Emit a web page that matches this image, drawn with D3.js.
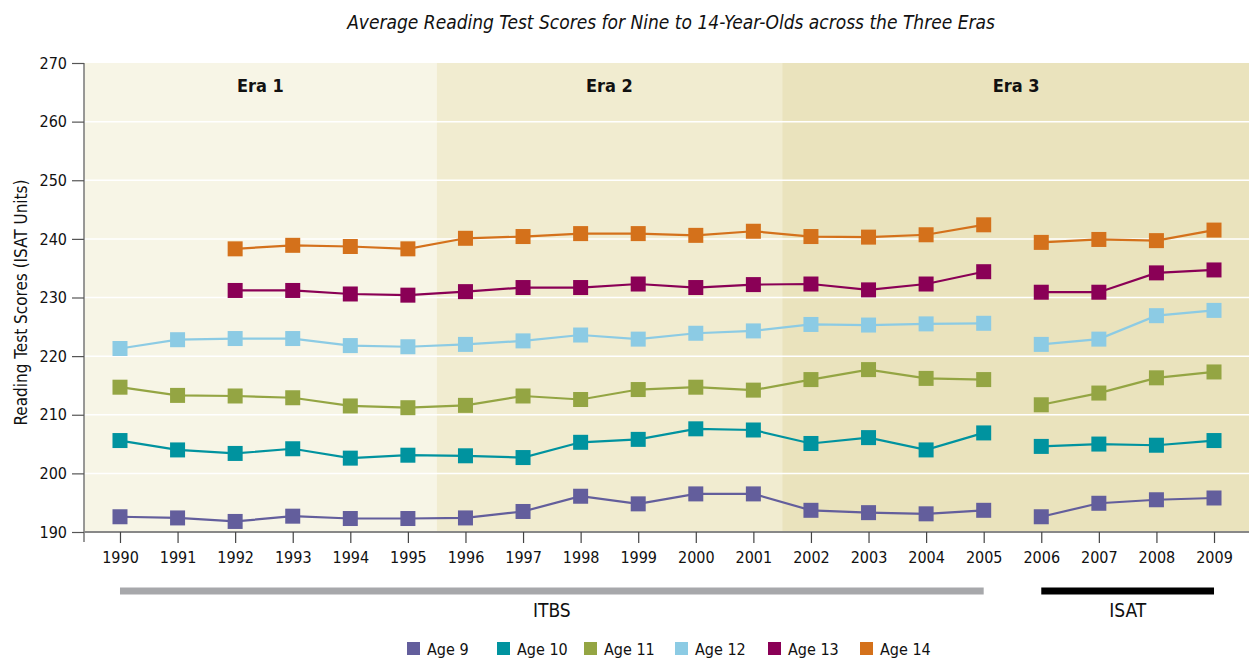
<!DOCTYPE html>
<html>
<head>
<meta charset="utf-8">
<script src="https://cdn.jsdelivr.net/npm/d3@7"></script>
<style>
  body { margin: 0; background: #fff; }
  text { font-family: "Liberation Sans Narrow", "DejaVu Sans Condensed", "Roboto Condensed", sans-serif; fill: #111; }
</style>
</head>
<body>
<svg width="1249" height="661"></svg>
<script>
var svg = d3.select("svg");

// data
const years = [1990, 1991, 1992, 1993, 1994, 1995, 1996, 1997, 1998, 1999,
	2000, 2001, 2002, 2003, 2004, 2005, 2006, 2007, 2008, 2009];
const age9 = [192.6, 192.4, 191.8, 192.7, 192.3, 192.3, 192.4, 193.5, 196.1, 194.8,
	196.5, 196.5, 193.7, 193.3, 193.1, 193.7, 192.6, 194.9, 195.5, 195.8];
const age10 = [205.6, 204.0, 203.4, 204.2, 202.6, 203.1, 203.0, 202.7, 205.3, 205.8,
	207.6, 207.4, 205.1, 206.1, 204.0, 206.9, 204.6, 205.0, 204.8, 205.6];
const age11 = [214.7, 213.3, 213.2, 212.9, 211.5, 211.2, 211.6, 213.2, 212.6, 214.3,
	214.7, 214.2, 216.0, 217.7, 216.2, 216.0, 211.7, 213.7, 216.3, 217.3];
const age12 = [221.3, 222.8, 223.0, 223.0, 221.8, 221.6, 222.0, 222.6, 223.6, 222.9,
	223.9, 224.3, 225.4, 225.3, 225.5, 225.6, 222.0, 222.9, 226.9, 227.8];
const age13 = [null, null, 231.2, 231.2, 230.6, 230.4, 231.0, 231.7, 231.7, 232.3,
	231.7, 232.2, 232.3, 231.3, 232.3, 234.4, 230.9, 230.9, 234.2, 234.7];
const age14 = [null, null, 238.3, 238.9, 238.7, 238.3, 240.1, 240.4, 240.9, 240.9,
	240.6, 241.3, 240.4, 240.3, 240.7, 242.4, 239.4, 239.9, 239.7, 241.5];

const seriesNames = ["Age 9", "Age 10", "Age 11", "Age 12", "Age 13", "Age 14"];
const seriesValues = [age9, age10, age11, age12, age13, age14];
const colors = ["#635e9c", "#00939f", "#94a543", "#8ccbe4", "#8a0056", "#d4711b"];

const eraNames = ["Era 1", "Era 2", "Era 3"];
const eraStart = [1989.375, 1995.5, 2001.5];
const eraEnd = [1995.5, 2001.5, 2009.625];
const eraFill = ["#f7f5e6", "#f1ecd0", "#eae3bd"];

// test programmes and the years they cover
const testNames = ["ITBS", "ISAT"];
const testStart = [1990, 2006];
const testEnd = [2005, 2009];
const testColor = ["#a7a8ab", "#000"];

const yTicks = [190, 200, 210, 220, 230, 240, 250, 260, 270];

const plotLeft = 84, plotTop = 63, plotBottom = 532;

const x = d3.scaleLinear().domain([1989.375, 2009.625]).range([plotLeft, 1250]);
const y = d3.scaleLinear().domain([190, 270]).range([plotBottom, plotTop]);

// title
svg.append("text")
	.attr("x", 671)
	.attr("y", 29)
	.attr("text-anchor", "middle")
	.attr("font-style", "italic")
	.attr("font-size", 19)
	.text("Average Reading Test Scores for Nine to 14-Year-Olds across the Three Eras");

// era bands
svg.append("g")
	.selectAll("rect")
	.data(eraNames)
	.join("rect")
	.attr("x", (d, i) => x(eraStart[i]))
	.attr("width", (d, i) => x(eraEnd[i]) - x(eraStart[i]))
	.attr("y", plotTop)
	.attr("height", plotBottom - plotTop)
	.attr("fill", (d, i) => eraFill[i]);

svg.append("g")
	.selectAll("text")
	.data(eraNames)
	.join("text")
	.attr("x", (d, i) => (x(eraStart[i]) + x(eraEnd[i])) / 2)
	.attr("y", 92)
	.attr("text-anchor", "middle")
	.attr("font-weight", "bold")
	.attr("font-size", 18)
	.text(d => d);

// grid
svg.append("g")
	.selectAll("line")
	.data(yTicks.slice(1, -1))
	.join("line")
	.attr("x1", plotLeft)
	.attr("x2", 1249)
	.attr("y1", d => y(d))
	.attr("y2", d => y(d))
	.attr("stroke", "#fff")
	.attr("stroke-width", 1.5);

// y axis
const yAxis = svg.append("g")
	.attr("transform", `translate(${plotLeft},0)`)
	.call(d3.axisLeft(y).tickValues(yTicks).tickSize(12).tickPadding(5));
yAxis.select(".domain").attr("stroke", "#777").attr("stroke-width", 1.5)
	.attr("d", `M0,${plotTop}V${plotBottom + 10}`);
yAxis.selectAll(".tick line").attr("stroke", "#555").attr("stroke-width", 1.2);
yAxis.selectAll(".tick text")
	.attr("font-size", 16)
	.attr("font-family", null)
	.attr("fill", "#111");

svg.append("text")
	.attr("transform", `translate(27,${(plotTop + plotBottom) / 2 + 5}) rotate(-90)`)
	.attr("text-anchor", "middle")
	.attr("font-size", 17)
	.text("Reading Test Scores (ISAT Units)");

// x axis
const xAxis = svg.append("g")
	.attr("transform", `translate(0,${plotBottom})`)
	.call(d3.axisBottom(x).tickValues(years).tickFormat(d3.format("d")).tickSize(11).tickPadding(9));
xAxis.select(".domain").attr("stroke", "#888").attr("stroke-width", 2)
	.attr("d", `M${plotLeft},0H1249`);
xAxis.selectAll(".tick line").attr("stroke", "#444").attr("stroke-width", 1.2);
xAxis.selectAll(".tick text")
	.attr("font-size", 16)
	.attr("font-family", null)
	.attr("fill", "#111");

// test bars
svg.append("g")
	.selectAll("line")
	.data(testNames)
	.join("line")
	.attr("x1", (d, i) => x(testStart[i]))
	.attr("x2", (d, i) => x(testEnd[i]))
	.attr("y1", 591)
	.attr("y2", 591)
	.attr("stroke", (d, i) => testColor[i])
	.attr("stroke-width", 7);

svg.append("g")
	.selectAll("text")
	.data(testNames)
	.join("text")
	.attr("x", (d, i) => (x(testStart[i]) + x(testEnd[i])) / 2)
	.attr("y", 617)
	.attr("text-anchor", "middle")
	.attr("font-size", 19)
	.text(d => d);

// lines, split between 2005 and 2006
const line = d3.line()
	.defined(d => d.v != null)
	.x(d => x(d.year))
	.y(d => y(d.v));

const seriesG = svg.append("g");
seriesValues.forEach((vals, k) => {
	const pts = years.map((yr, i) => ({ year: yr, v: vals[i] }));
	const parts = testNames.map((t, i) => pts.filter(p => p.year >= testStart[i] && p.year <= testEnd[i]));
	seriesG.append("g")
		.selectAll("path")
		.data(parts)
		.join("path")
		.attr("d", line)
		.attr("fill", "none")
		.attr("stroke", colors[k])
		.attr("stroke-width", 2.2);
	seriesG.append("g")
		.selectAll("rect")
		.data(pts.filter(p => p.v != null))
		.join("rect")
		.attr("x", d => x(d.year) - 7.5)
		.attr("y", d => y(d.v) - 7.5)
		.attr("width", 15)
		.attr("height", 15)
		.attr("fill", colors[k]);
});

// legend
const legendX = [407, 497, 584, 675, 768, 860];
const legend = svg.append("g")
	.selectAll("g")
	.data(seriesNames)
	.join("g")
	.attr("transform", (d, i) => `translate(${legendX[i]},642)`);
legend.append("rect")
	.attr("width", 13)
	.attr("height", 13)
	.attr("fill", (d, i) => colors[i]);
legend.append("text")
	.attr("x", 20)
	.attr("y", 12.5)
	.attr("font-size", 16)
	.text(d => d);
</script>
</body>
</html>
